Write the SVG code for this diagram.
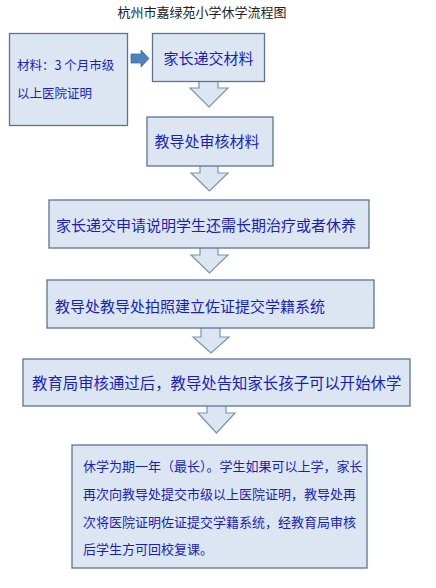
<svg xmlns="http://www.w3.org/2000/svg" width="436" height="588" viewBox="0 0 436 588">
<style>
.box{fill:#dce6f2;stroke:#5b7595;stroke-width:1.3}
.arr{fill:#dce6f2;stroke:#7d93ad;stroke-width:1.2}
.t{font-family:"Noto Sans CJK SC","Liberation Sans",sans-serif;fill:#1a1fb4}
.title{font-family:"Noto Sans CJK SC","Liberation Sans",sans-serif;fill:#222;font-size:13px}
</style>
<rect width="436" height="588" fill="#ffffff"/>
<text class="title" x="202" y="17" text-anchor="middle">杭州市嘉绿苑小学休学流程图</text>
<g id="connectors">
<path d="M131,54 H141 V50 L149,58.5 L141,67 V63 H131 Z" fill="#4f81bd" stroke="#3f6fa6" stroke-width="0.8"/>
<path class="arr" d="M199,82 V88 H190 L209,107 L228,88 H218 V82"/>
<path class="arr" d="M200,166 V173 H191 L209.5,191 L228,173 H218 V166"/>
<path class="arr" d="M200,248 V255 H191 L209.5,273 L228,255 H218 V248"/>
<path class="arr" d="M201,328 V337 H193 L211,353 L229,337 H220 V328"/>
<path class="arr" d="M207,406 V413 H198 L216.5,433 L235,413 H226 V406"/>
</g>
<g id="n0">
<rect class="box" x="9.5" y="33.5" width="118" height="92"/>
<text class="t" font-size="12.5" x="17" y="70">材料：3 个月市级</text>
<text class="t" font-size="12.5" x="17" y="98">以上医院证明</text>
</g>
<g id="n1">
<rect class="box" x="152.5" y="33.5" width="112" height="48"/>
<text class="t" font-size="15" x="208.5" y="64" text-anchor="middle">家长递交材料</text>
</g>
<g id="n2">
<rect class="box" x="147" y="117" width="126" height="49"/>
<text class="t" font-size="15" x="207" y="147" text-anchor="middle">教导处审核材料</text>
</g>
<g id="n3">
<rect class="box" x="49" y="200" width="320" height="48"/>
<text class="t" font-size="15" x="56" y="231">家长递交申请说明学生还需长期治疗或者休养</text>
</g>
<g id="n4">
<rect class="box" x="47" y="280" width="327" height="48"/>
<text class="t" font-size="15" x="55" y="312">教导处教导处拍照建立佐证提交学籍系统</text>
</g>
<g id="n5">
<rect class="box" x="23" y="359" width="387" height="47"/>
<text class="t" font-size="15.4" x="32" y="389">教育局审核通过后，教导处告知家长孩子可以开始休学</text>
</g>
<g id="n6">
<rect class="box" x="72" y="445" width="295" height="123"/>
<text class="t" font-size="13" x="83" y="471">休学为期一年（最长）。学生如果可以上学，家长</text>
<text class="t" font-size="13" x="83" y="499">再次向教导处提交市级以上医院证明，教导处再</text>
<text class="t" font-size="13" x="83" y="527">次将医院证明佐证提交学籍系统，经教育局审核</text>
<text class="t" font-size="13" x="83" y="554">后学生方可回校复课。</text>
</g>
</svg>
